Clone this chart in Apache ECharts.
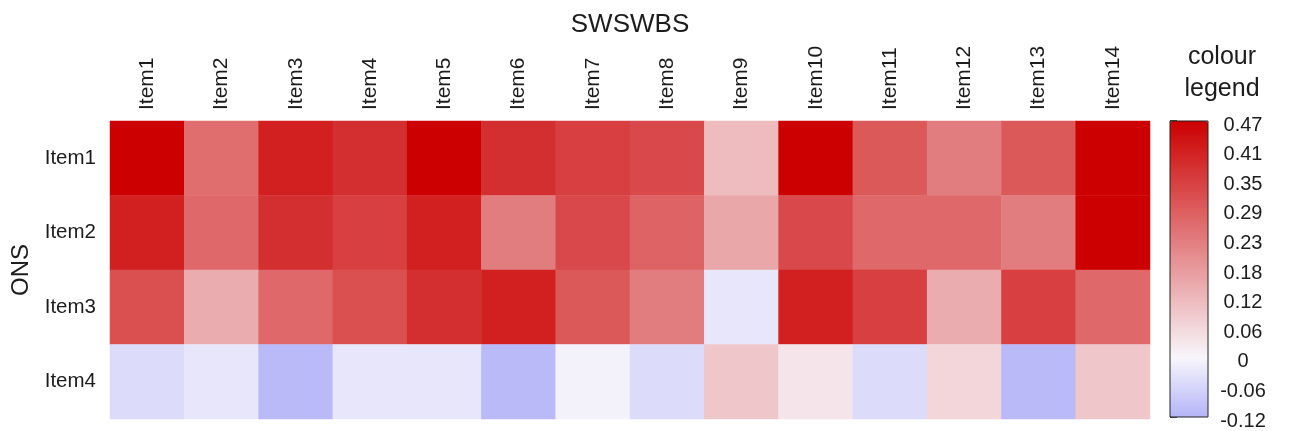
<!DOCTYPE html>
<html>
<head>
<meta charset="utf-8">
<script src="https://cdn.jsdelivr.net/npm/echarts@6/dist/echarts.min.js"></script>
<style>
  html, body { margin: 0; padding: 0; background: #ffffff; }
  #chart { width: 1291px; height: 431px; }
</style>
</head>
<body>
<div id="chart"></div>
<script>
// Column (SWSWBS) and row (ONS) item names
const columns = ['Item1', 'Item2', 'Item3', 'Item4', 'Item5', 'Item6', 'Item7',
                 'Item8', 'Item9', 'Item10', 'Item11', 'Item12', 'Item13', 'Item14'];
const rows = ['Item1', 'Item2', 'Item3', 'Item4'];

// Correlation values, one array per ONS row
const onsItem1 = [0.47, 0.26, 0.41, 0.38, 0.47, 0.38, 0.35, 0.33, 0.11, 0.47, 0.30, 0.23, 0.30, 0.47];
const onsItem2 = [0.41, 0.27, 0.38, 0.35, 0.41, 0.23, 0.33, 0.28, 0.15, 0.33, 0.27, 0.27, 0.23, 0.47];
const onsItem3 = [0.32, 0.14, 0.27, 0.32, 0.38, 0.41, 0.30, 0.23, -0.03, 0.41, 0.35, 0.14, 0.35, 0.27];
const onsItem4 = [-0.05, -0.03, -0.11, -0.03, -0.03, -0.11, -0.01, -0.05, 0.09, 0.03, -0.05, 0.06, -0.11, 0.09];

// Colour scale range and its tick labels (bottom to top)
const colourMin = -0.12;
const colourMax = 0.47;
const legendTicks = ['-0.12', '-0.06', '0', '0.06', '0.12', '0.18', '0.23', '0.29', '0.35', '0.41', '0.47'];

const valueRows = [onsItem1, onsItem2, onsItem3, onsItem4];
const cells = [];
valueRows.forEach((vals, r) => vals.forEach((v, c) => cells.push([c, r, v])));

const FONT = 'Liberation Sans, Arial, sans-serif';
const INK = '#1c1c1c';

const chart = echarts.init(document.getElementById('chart'), null, { renderer: 'canvas' });
chart.setOption({
  animation: false,
  backgroundColor: '#ffffff',
  textStyle: { fontFamily: FONT, color: INK },
  grid: [
    { left: 110, top: 121, width: 1040, height: 298 },
    { left: 1170, top: 121, width: 38, height: 296, show: true,
      backgroundColor: 'transparent', borderColor: '#222', borderWidth: 1, z: 10 }
  ],
  xAxis: [
    {
      type: 'category', gridIndex: 0, data: columns, position: 'top',
      axisLine: { show: false }, axisTick: { show: false }, splitLine: { show: false },
      axisLabel: { rotate: -90, margin: 11, fontSize: 21, color: INK, fontFamily: FONT },
      name: 'SWSWBS', nameLocation: 'middle', nameGap: 82,
      nameTextStyle: { fontSize: 26, color: INK, fontFamily: FONT }
    },
    { type: 'value', gridIndex: 1, show: false, min: 0, max: 1 }
  ],
  yAxis: [
    {
      type: 'category', gridIndex: 0, data: rows, inverse: true,
      axisLine: { show: false }, axisTick: { show: false }, splitLine: { show: false },
      axisLabel: { margin: 14, fontSize: 20.5, color: INK, fontFamily: FONT },
      name: 'ONS', nameLocation: 'middle', nameRotate: 90, nameGap: 74,
      nameTextStyle: { fontSize: 24, color: INK, fontFamily: FONT }
    },
    {
      type: 'category', gridIndex: 1, data: legendTicks, position: 'right', boundaryGap: false,
      axisLine: { show: false },
      axisTick: { show: true, length: 7, lineStyle: { color: '#222', width: 1.5 } },
      splitLine: { show: false },
      axisLabel: { align: 'center', verticalAlign: 'top', lineHeight: 8, margin: 35,
                   fontSize: 20, color: INK, fontFamily: FONT }
    }
  ],
  visualMap: {
    type: 'continuous', min: colourMin, max: colourMax, seriesIndex: 0,
    left: 1170, top: 121, itemWidth: 38, itemHeight: 296, padding: 0,
    calculable: false, hoverLink: false, z: 1,
    inRange: { color: ['#b4b4f8', '#f8f6fb', '#edb9bc', '#e27b7d', '#d73e3f', '#cc0000'] }
  },
  graphic: [
    {
      type: 'text', x: 1222, y: 73,
      style: {
        text: 'colour\nlegend', textAlign: 'center', textVerticalAlign: 'middle',
        fontSize: 25, lineHeight: 32, fill: INK, fontFamily: FONT
      }
    }
  ],
  series: [
    {
      type: 'heatmap', xAxisIndex: 0, yAxisIndex: 0, data: cells,
      itemStyle: { borderWidth: 0 },
      emphasis: { disabled: true }
    }
  ]
});
</script>
</body>
</html>
